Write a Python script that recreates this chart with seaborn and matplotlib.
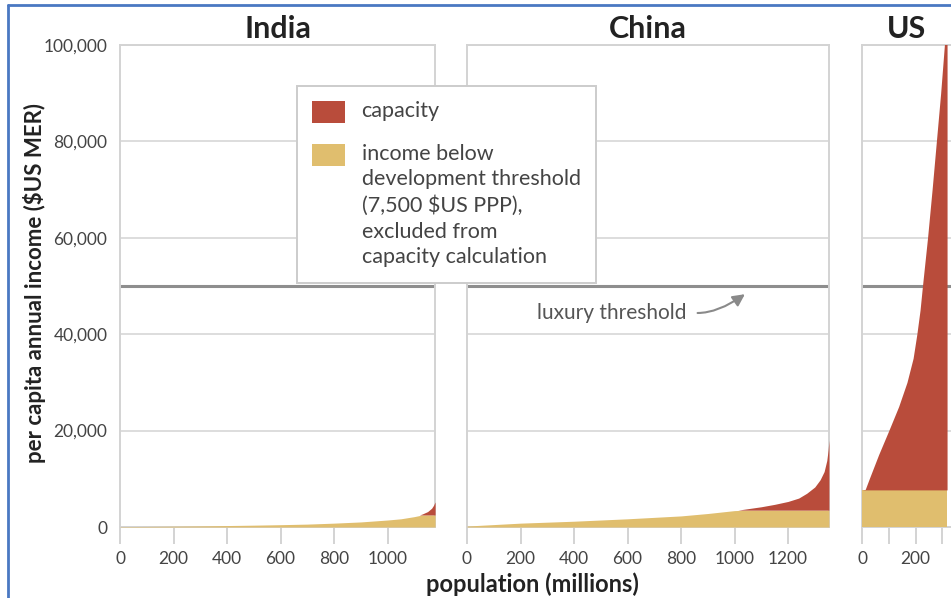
import numpy as np
import pandas as pd
import matplotlib
matplotlib.use("Agg")
import matplotlib.pyplot as plt
from matplotlib.patches import Patch
from matplotlib.lines import Line2D
from matplotlib.ticker import FuncFormatter
import seaborn as sns

# ---------------- data ----------------
countries = ["India", "China", "US"]

india_pop = [0, 100, 200, 300, 400, 500, 600, 700, 800, 900, 1000, 1050, 1100,
             1130, 1150, 1165, 1172, 1178]
india_income = [80, 120, 170, 230, 300, 380, 480, 600, 800, 1050, 1450, 1700,
                2150, 2700, 3200, 3900, 4500, 5200]
india_threshold = 2500

china_pop = [0, 100, 200, 300, 400, 500, 600, 700, 800, 900, 1000, 1050, 1100,
             1150, 1200, 1240, 1270, 1300, 1320, 1335, 1345, 1350, 1353]
china_income = [200, 500, 800, 1000, 1200, 1450, 1700, 2000, 2300, 2800, 3400,
                3800, 4200, 4700, 5300, 6000, 7000, 8300, 9800, 11500, 13800,
                16000, 18000]
china_threshold = 3500

us_pop = [0, 12, 27, 62, 100, 137, 168, 191, 205, 217, 226, 245, 262, 278, 294,
          308, 318]
us_income = [7700, 7800, 10000, 15000, 20000, 25000, 30000, 35000, 40000, 45000,
             50000, 60000, 70000, 80000, 90000, 100000, 120000]
us_threshold = 7700

luxury_threshold = 50000

y_ticks = [0, 20000, 40000, 60000, 80000, 100000]
india_xticks = [0, 200, 400, 600, 800, 1000]
china_xticks = [0, 200, 400, 600, 800, 1000, 1200]
us_xticks = [0, 100, 200, 300]
us_xticklabels = ["0", "", "200", ""]

legend_labels = ["capacity",
                 "income below\ndevelopment threshold\n(7,500 $US PPP),\nexcluded from\ncapacity calculation"]

RED = "#B94C3B"
YELLOW = "#E0BE6E"

# ---------------- style ----------------
sns.set_theme(style="white")
plt.rcParams["font.family"] = ["Lato", "DejaVu Sans"]

W, H = 951, 598
fig = plt.figure(figsize=(W / 100, H / 100), dpi=100)

TOP_PX, BOT_PX = 45, 527
PX_PER = 0.2675


def rect(x0, xmax):
    x1 = x0 + xmax * PX_PER
    return [x0 / W, 1 - BOT_PX / H, (x1 - x0) / W, (BOT_PX - TOP_PX) / H]


panels = [
    ("India", india_pop, india_income, india_threshold, 120, 1178, india_xticks, None),
    ("China", china_pop, china_income, china_threshold, 467, 1353, china_xticks, None),
    ("US", us_pop, us_income, us_threshold, 862, 335, us_xticks, us_xticklabels),
]

axes = []
for i, (name, pop, inc, thr, x0, xmax, xt, xtl) in enumerate(panels):
    ax = fig.add_axes(rect(x0, xmax))
    df = pd.DataFrame({"pop": pop, "income": inc})
    below = np.minimum(df["income"].values, thr)
    ax.fill_between(df["pop"], 0, below, color=YELLOW, lw=0, zorder=3)
    ax.fill_between(df["pop"], thr, df["income"], where=df["income"] > thr,
                    interpolate=True, color=RED, lw=0, zorder=3)
    ax.axhline(luxury_threshold, color="#8e8e8e", lw=2.2, zorder=2)
    ax.set_xlim(0, xmax)
    ax.set_ylim(0, 100000)
    ax.set_yticks(y_ticks)
    ax.yaxis.grid(True, color="#dddddd", lw=1.4)
    ax.xaxis.grid(False)
    ax.set_axisbelow(True)
    for sp in ax.spines.values():
        sp.set_visible(True)
        sp.set_color("#d3d3d3")
        sp.set_linewidth(1.4)
    ax.set_xticks(xt)
    if xtl is not None:
        ax.set_xticklabels(xtl)
    ax.tick_params(axis="x", length=12, width=1.4, color="#d3d3d3", pad=5,
                   labelsize=12.5, labelcolor="#444444", bottom=True)
    if i == 0:
        ax.yaxis.set_major_formatter(FuncFormatter(lambda v, p: f"{int(v):,}"))
        ax.tick_params(axis="y", length=0, pad=9, labelsize=12.5, labelcolor="#444444")
    else:
        ax.tick_params(axis="y", length=0, labelleft=False)
    ax.set_xlabel("")
    ax.set_ylabel("")
    ax.set_title(name, fontsize=22, fontweight="bold", color="#222222", pad=5)
    axes.append(ax)

# luxury threshold annotation (China panel)
ax_c = axes[1]
ax_c.text(542, 44400, "luxury threshold", ha="center", va="center",
          fontsize=15, color="#555555", zorder=5)
ax_c.annotate("", xy=(1039, 48300), xytext=(862, 44400),
              arrowprops=dict(arrowstyle="-|>,head_length=0.6,head_width=0.3",
                              color="#8a8a8a", lw=1.5,
                              connectionstyle="angle3,angleA=0,angleB=35",
                              shrinkA=0, shrinkB=0), zorder=5)

# legend
handles = [Patch(facecolor=RED, edgecolor="none"),
           Patch(facecolor=YELLOW, edgecolor="none")]
leg = fig.legend(handles, legend_labels, loc="upper left",
                 bbox_to_anchor=(297 / W, 1 - 86 / H), frameon=True,
                 fancybox=False, framealpha=1, edgecolor="#cccccc",
                 fontsize=15.5, labelcolor="#444444", handlelength=1.55,
                 handleheight=1.2, handletextpad=0.75, labelspacing=0.95,
                 borderpad=0.7, borderaxespad=0)
leg.get_frame().set_linewidth(1.4)
for t in leg.get_texts():
    t.set_linespacing(1.36)
try:
    for col in leg._legend_handle_box.get_children():
        for hp in col.get_children():
            hp.align = "top"
except Exception:
    pass

# axis labels
fig.text(35 / W, 1 - 283 / H, "per capita annual income ($US MER)", rotation=90,
         ha="center", va="center", fontsize=16, fontweight="bold", color="#222222")
fig.text(532 / W, 1 - 584 / H, "population (millions)", ha="center", va="center",
         fontsize=17, fontweight="bold", color="#222222")

# frame of the picture
fig.add_artist(Line2D([8 / W, 8 / W], [0, 1 - 5 / H], transform=fig.transFigure,
                      color="#4a78c2", lw=2))
fig.add_artist(Line2D([8 / W, 1], [1 - 5 / H, 1 - 5 / H], transform=fig.transFigure,
                      color="#4a78c2", lw=2))

fig.savefig("out.png", dpi=100)
